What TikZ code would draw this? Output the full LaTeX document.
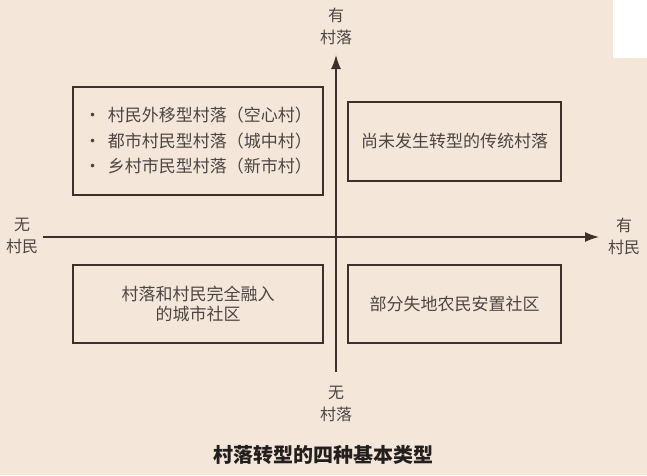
\documentclass[tikz,border=0pt]{standalone}
\usepackage{fontspec}
\setmainfont{Noto Sans CJK SC}
\usepackage{xcolor}
\usetikzlibrary{positioning,arrows.meta}
\definecolor{bgc}{HTML}{F4E7DA}
\definecolor{linec}{HTML}{3B302B}
\definecolor{txtc}{HTML}{4D4544}
\definecolor{titlec}{HTML}{231F1E}

\begin{document}
\begin{tikzpicture}[x=1pt,y=-1pt,
  box/.style={draw=linec,line width=1.4pt,inner sep=0pt,text=txtc,
    font=\fontsize{17}{25.5}\selectfont},
  axis/.style={draw=linec,line width=1.5pt,-{Latex[length=14pt,width=10pt]}},
  axlabel/.style={text=txtc,font=\fontsize{16}{22}\selectfont,align=center,inner sep=0pt}]

  % --- canvas ---
  \fill[bgc] (0,0) rectangle (647,475);
  \fill[white] (613,0) rectangle (647,58);

  % --- axes ---
  \coordinate (xL) at (43,237); \coordinate (xR) at (599,237);
  \coordinate (yB) at (336,372); \coordinate (yT) at (336,55);
  \draw[axis] (xL) -- (xR);
  \draw[axis] (yB) -- (yT);
  \node[axlabel] (yTop) at (336,26.5) {有\\村落};
  \node[axlabel] (yBot) at (336,404) {无\\村落};
  \node[axlabel] (xLeft) at (22,236) {无\\村民};
  \node[axlabel] (xRight) at (624,236) {有\\村民};

  % --- four quadrants ---
  \node[box,minimum width=250pt,minimum height=108pt,align=left] (noVil) at (198,141)
    {•\, 村民外移型村落（空心村）\\ •\, 都市村民型村落（城中村）\\ •\, 乡村市民型村落（新市村）};
  \node[box,minimum width=213pt,minimum height=79pt] (trad) at (454.5,141.5)
    {尚未发生转型的传统村落};
  \node[box,minimum width=250pt,minimum height=78pt,align=center,
    font=\fontsize{17}{20}\selectfont] (urban) at (198,304)
    {村落和村民完全融入\\的城市社区};
  \node[box,minimum width=213pt,minimum height=78pt] (resettle) at (454.5,304)
    {部分失地农民安置社区};

  % --- caption ---
  \node[font=\fontsize{20}{24}\selectfont\bfseries,text=titlec] (title) at (323,455)
    {村落转型的四种基本类型};
\end{tikzpicture}
\end{document}
